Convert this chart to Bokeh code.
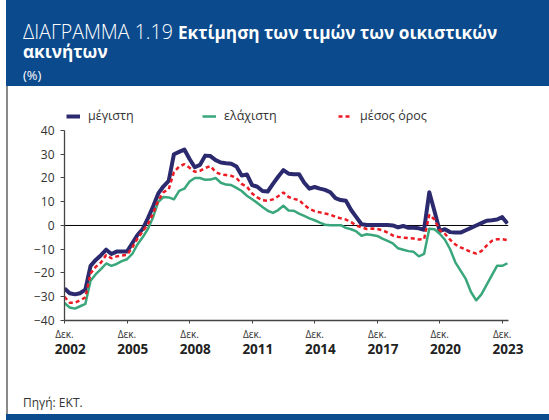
import numpy as np
from bokeh.plotting import figure
from bokeh.models import (Range1d, LinearAxis, FixedTicker, Span, Legend, LegendItem, Div)
from bokeh.layouts import column, row
from bokeh.embed import file_html
from bokeh.resources import INLINE

# ---- data (quarterly, from Dec 2002) ----
max_vals = [-26.5, -28.5, -29.0, -28.5, -27.0, -17.0, -14.5, -12.5, -10.2, -12.0,
            -11.0, -11.0, -11.0, -7.5, -4.0, -1.5, 3.0, 8.0, 13.5, 16.5,
            18.8, 30.0, 31.0, 32.0, 28.0, 24.5, 25.5, 29.4, 29.2, 27.5,
            26.5, 26.2, 26.0, 24.8, 21.0, 21.5, 17.0, 16.3, 14.5, 14.3,
            17.5, 20.5, 23.3, 21.8, 21.6, 21.6, 18.0, 15.5, 16.2, 15.5,
            15.0, 14.0, 11.5, 10.7, 10.4, 6.5, 3.5, 0.5, 0.2, 0.2,
            0.2, 0.2, 0.2, 0.0, -0.8, -0.2, -1.0, -1.0, -1.2, -1.8,
            14.0, 6.0, -2.3, -1.6, -2.8, -3.0, -3.0, -2.0, -1.0, 0.0,
            1.0, 2.0, 2.2, 2.5, 3.5, 0.8]
min_vals = [-32.6, -34.5, -35.0, -34.0, -33.0, -23.3, -20.5, -18.4, -16.0, -17.0,
            -16.2, -15.0, -14.2, -12.0, -8.0, -5.0, -1.5, 3.5, 10.0, 12.0,
            11.8, 11.0, 14.6, 15.5, 18.5, 20.0, 20.0, 19.2, 19.3, 20.0,
            18.0, 17.2, 17.0, 15.8, 14.5, 12.5, 11.0, 9.5, 7.8, 6.2,
            5.3, 6.5, 8.3, 6.3, 6.2, 5.0, 4.0, 3.0, 2.2, 1.2,
            0.3, 0.1, 0.1, 0.1, -1.0, -1.6, -2.5, -4.3, -3.7, -4.0,
            -4.4, -5.5, -6.5, -7.5, -9.6, -10.2, -10.8, -11.1, -13.0, -12.0,
            -1.4, -1.6, -3.5, -6.0, -10.0, -15.5, -19.0, -22.5, -28.0, -31.5,
            -29.0, -25.0, -21.0, -17.0, -17.0, -15.9]
mean_vals = [-30.0, -32.5, -32.5, -31.5, -30.3, -20.2, -17.4, -15.6, -12.4, -13.8,
             -13.0, -12.6, -12.4, -9.3, -5.5, -2.5, 0.5, 5.0, 10.5, 14.0,
             15.2, 22.5, 24.8, 25.8, 24.3, 22.6, 23.0, 24.2, 25.0, 22.5,
             21.5, 21.2, 20.9, 20.0, 17.5, 16.3, 13.5, 11.8, 10.6, 10.4,
             11.0, 12.3, 13.9, 12.0, 11.2, 10.7, 8.6, 7.0, 6.0, 5.5,
             5.0, 4.6, 3.6, 3.0, 2.5, 1.4, 0.0, -0.8, -1.5, -1.3,
             -1.5, -2.0, -3.0, -4.2, -4.8, -5.1, -5.3, -5.5, -5.9, -5.8,
             4.5, 2.5, -2.0, -3.5, -6.0, -8.0, -9.2, -10.2, -11.2, -11.8,
             -10.8, -8.5, -6.5, -5.8, -5.8, -6.2]
series_names = ["μέγιστη", "ελάχιστη", "μέσος όρος"]
tick_years = ["2002", "2005", "2008", "2011", "2014", "2017", "2020", "2023"]
tick_month = "Δεκ."
y_ticks = [-40, -30, -20, -10, 0, 10, 20, 30, 40]

BLUE_HDR = "#0b4a8c"
C_MAX = "#2c2a6e"
C_MIN = "#39a77b"
C_MEAN = "#ec1c24"
TXT = "#333333"
FONT = "Open Sans"

x = np.arange(len(max_vals))
tick_pos = [(int(y) - 2002) * 4 for y in tick_years]

p = figure(width=541, height=274, output_backend="svg", toolbar_location=None,
           x_range=Range1d(0, 85.2), y_range=Range1d(-40, 50.5),
           min_border_left=56, min_border_right=41, min_border_top=19,
           min_border_bottom=40, background_fill_color="white",
           border_fill_color="white", margin=0)
p.outline_line_color = None
p.xgrid.grid_line_color = None
p.ygrid.grid_line_color = None

xa = p.xaxis[0]
xa.ticker = FixedTicker(ticks=tick_pos)
xa.major_label_overrides = {t: tick_month for t in tick_pos}
xa.minor_tick_line_color = None
xa.major_tick_out = 3
xa.major_tick_in = 0
xa.axis_line_color = "#444444"
xa.axis_line_width = 1.3
xa.major_tick_line_color = "#444444"
xa.major_label_text_font = FONT
xa.major_label_text_font_size = "10px"
xa.major_label_text_color = TXT
xa.major_label_standoff = 3

p.extra_x_ranges = {"yr": Range1d(-1.1, 84.1)}
ya2 = LinearAxis(x_range_name="yr", ticker=FixedTicker(ticks=tick_pos))
ya2.major_label_overrides = {t: yv for t, yv in zip(tick_pos, tick_years)}
ya2.axis_line_color = None
ya2.major_tick_line_color = None
ya2.minor_tick_line_color = None
ya2.major_label_text_font = FONT
ya2.major_label_text_font_style = "bold"
ya2.major_label_text_font_size = "13.5px"
ya2.major_label_text_color = "#222222"
ya2.major_label_standoff = -6
p.add_layout(ya2, "below")

ya = p.yaxis[0]
ya.ticker = FixedTicker(ticks=y_ticks)
ya.bounds = (-40, 40)
ya.minor_tick_line_color = None
ya.major_tick_out = 4
ya.major_tick_in = 0
ya.axis_line_color = "#444444"
ya.axis_line_width = 1.3
ya.major_tick_line_color = "#444444"
ya.major_label_text_font = FONT
ya.major_label_text_font_size = "12px"
ya.major_label_text_color = TXT
ya.major_label_standoff = 6

p.add_layout(Span(location=0, dimension="width", line_color="black",
                  line_width=1, level="underlay"))

r_max = p.line(x, max_vals, line_color=C_MAX, line_width=4, line_join="round")
r_min = p.line(x, min_vals, line_color=C_MIN, line_width=2.5, line_join="round")
r_mean = p.line(x, mean_vals, line_color=C_MEAN, line_width=2.5, line_dash="4 3")

legend = Legend(items=[LegendItem(label=series_names[0], renderers=[r_max]),
                       LegendItem(label=series_names[1], renderers=[r_min]),
                       LegendItem(label=series_names[2], renderers=[r_mean])],
                orientation="horizontal", location=(2, 196),
                glyph_width=14, glyph_height=12, label_standoff=8,
                label_width=114, spacing=0, padding=0, margin=0,
                border_line_alpha=0, background_fill_alpha=0,
                label_text_font=FONT, label_text_font_size="12.5px",
                label_text_color=TXT, label_height=12)
p.add_layout(legend)

header_html = (
    '<div style="padding:22px 0 0 17px;color:#ffffff;font-family:\'Open Sans\';">'
    '<div style="line-height:20px;white-space:nowrap">'
    '<span style="font-size:19.6px;font-weight:300">ΔΙΑΓΡΑΜΜΑ 1.19 </span>'
    '<b style="font-size:17.2px">Εκτίμηση των τιμών των οικιστικών</b></div>'
    '<div style="font-size:17.2px;line-height:20px;margin-top:-3px"><b>ακινήτων</b></div>'
    '<div style="font-size:13px;line-height:20px;margin-top:3px">(%)</div></div>')
header = Div(text=header_html, width=543, height=86, margin=0,
             styles={"background-color": BLUE_HDR})
gray = Div(text="", width=2, height=328, margin=0,
           styles={"background-color": "#8a8a8a"})
footer = Div(text='<div style="padding:35px 0 0 15px;font-family:\'Open Sans\';'
                  'font-size:12px;line-height:16px;color:#333333">Πηγή: ΕΚΤ.</div>',
             width=541, height=54, margin=0)
band = Div(text="", width=543, height=6, margin=0,
           styles={"background-color": BLUE_HDR})
left_pad = Div(text="", width=6, height=420, margin=0)

inner = column(header, row(gray, column(p, footer, spacing=0), spacing=0),
               band, spacing=0)
layout = row(left_pad, inner, spacing=0)
open("out.html", "w").write(file_html(layout, INLINE))
